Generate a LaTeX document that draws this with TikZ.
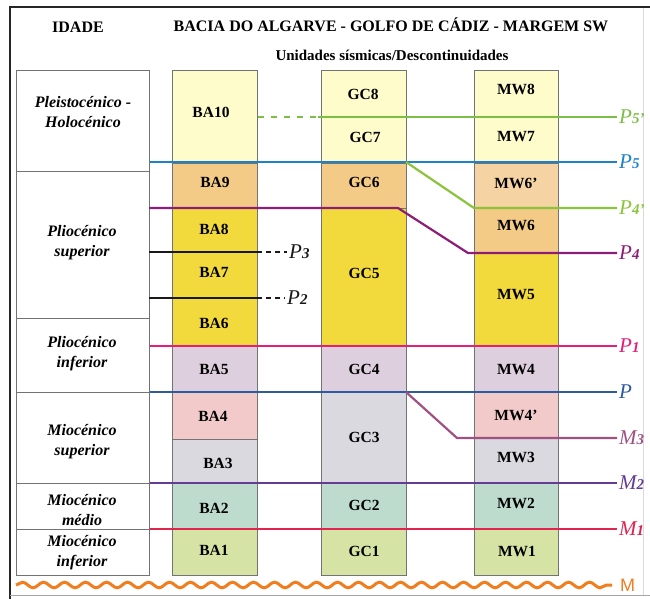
\documentclass[tikz,border=0pt]{standalone}
\usepackage{fontspec}
\setmainfont{Liberation Serif}
\newfontfamily\labsans{Liberation Sans}
\usetikzlibrary{decorations.pathmorphing}
\definecolor{cLY}{HTML}{FFFCCB}
\definecolor{cOR}{HTML}{F4CB86}
\definecolor{cORL}{HTML}{F5D3A2}
\definecolor{cYE}{HTML}{F2D93C}
\definecolor{cMA}{HTML}{DDCFDD}
\definecolor{cPK}{HTML}{F2CACA}
\definecolor{cGR}{HTML}{D9D9DF}
\definecolor{cTE}{HTML}{BEDCCE}
\definecolor{cGN}{HTML}{D5E4A5}
\definecolor{lPfivep}{HTML}{7DBE46}
\definecolor{lPfive}{HTML}{1E82C8}
\definecolor{lPfourp}{HTML}{8CC33C}
\definecolor{lPfour}{HTML}{8C1E78}
\definecolor{lPone}{HTML}{E61E78}
\definecolor{lPzero}{HTML}{2E5AA0}
\definecolor{lMthree}{HTML}{A05082}
\definecolor{lMtwo}{HTML}{643C96}
\definecolor{lMone}{HTML}{E12350}
\definecolor{lMzero}{HTML}{F07D1E}
\newcommand{\plab}[2]{{\fontsize{21}{21}\selectfont\itshape #1\fontsize{15}{15}\selectfont\bfseries #2}}
\begin{document}
\begin{tikzpicture}[x=1pt,y=-1pt,
  cell/.style={draw=black!55, line width=0.7pt, inner sep=0pt, anchor=north west},
  utxt/.style={font=\fontsize{15.5}{16}\selectfont\bfseries, inner sep=0pt},
  agetxt/.style={font=\fontsize{16}{20}\selectfont\bfseries\itshape, align=center, inner sep=0pt},
  head/.style={font=\fontsize{16}{18}\selectfont\bfseries, inner sep=0pt},
  hz/.style={line width=2.2pt},
  lab/.style={anchor=west, inner xsep=2pt, inner ysep=0pt}
]
\useasboundingbox (0,0) rectangle (650,599);
% frame
\draw[black!85, line width=2.5pt] (10,599) -- (10,7) -- (650,7);
\draw[black!35, line width=0.8pt] (10,595) -- (650,595);
\draw[black!15, line width=0.6pt] (643,8) -- (643,595);
% header
\node[head] (idade) at (78,27) {IDADE};
\node[head] (title) at (391,25) {BACIA DO ALGARVE - GOLFO DE CÁDIZ - MARGEM SW};
\node[head, font=\fontsize{15}{18}\selectfont\bfseries] (sub) at (392,55) {Unidades sísmicas/Descontinuidades};
% age column
\node[cell, fill=white, minimum width=133pt, minimum height=101pt] (a1) at (16,70) {};
\node[cell, fill=white, minimum width=133pt, minimum height=147pt] (a2) at (16,171) {};
\node[cell, fill=white, minimum width=133pt, minimum height=74pt] (a3) at (16,318) {};
\node[cell, fill=white, minimum width=133pt, minimum height=91pt] (a4) at (16,392) {};
\node[cell, fill=white, minimum width=133pt, minimum height=46pt] (a5) at (16,483) {};
\node[cell, fill=white, minimum width=133pt, minimum height=46pt] (a6) at (16,529) {};
\node[agetxt] (t1) at (83,112) {Pleistocénico -\\Holocénico};
\node[agetxt] (t2) at (82,243) {Pliocénico\\superior};
\node[agetxt] (t3) at (82,354) {Pliocénico\\inferior};
\node[agetxt] (t4) at (82,442) {Miocénico\\superior};
\node[agetxt] (t5) at (82,510) {Miocénico\\médio};
\node[agetxt] (t6) at (82,553) {Miocénico\\inferior};
% BA column
\node[cell, fill=cLY, minimum width=85pt, minimum height=93pt] (ba10) at (172,70) {};
\node[cell, fill=cOR, minimum width=85pt, minimum height=45pt] (ba9) at (172,163) {};
\node[cell, fill=cYE, minimum width=85pt, minimum height=138pt] (ba86) at (172,208) {};
\node[cell, fill=cMA, minimum width=85pt, minimum height=46pt] (ba5) at (172,346) {};
\node[cell, fill=cPK, minimum width=85pt, minimum height=47pt] (ba4) at (172,392) {};
\node[cell, fill=cGR, minimum width=85pt, minimum height=44pt] (ba3) at (172,439) {};
\node[cell, fill=cTE, minimum width=85pt, minimum height=46pt] (ba2) at (172,483) {};
\node[cell, fill=cGN, minimum width=85pt, minimum height=46pt] (ba1) at (172,529) {};
% GC column
\node[cell, fill=cLY, minimum width=85pt, minimum height=93pt] (gc87) at (321,70) {};
\node[cell, fill=cOR, minimum width=85pt, minimum height=45pt] (gc6) at (321,163) {};
\node[cell, fill=cYE, minimum width=85pt, minimum height=138pt] (gc5) at (321,208) {};
\node[cell, fill=cMA, minimum width=85pt, minimum height=46pt] (gc4) at (321,346) {};
\node[cell, fill=cGR, minimum width=85pt, minimum height=91pt] (gc3) at (321,392) {};
\node[cell, fill=cTE, minimum width=85pt, minimum height=46pt] (gc2) at (321,483) {};
\node[cell, fill=cGN, minimum width=85pt, minimum height=46pt] (gc1) at (321,529) {};
% MW column
\node[cell, fill=cLY, minimum width=84pt, minimum height=93pt] (mw87) at (474,70) {};
\node[cell, fill=cORL, minimum width=84pt, minimum height=45pt] (mw6p) at (474,163) {};
\node[cell, fill=cOR, minimum width=84pt, minimum height=45pt] (mw6) at (474,208) {};
\node[cell, fill=cYE, minimum width=84pt, minimum height=93pt] (mw5) at (474,253) {};
\node[cell, fill=cMA, minimum width=84pt, minimum height=46pt] (mw4) at (474,346) {};
\node[cell, fill=cPK, minimum width=84pt, minimum height=46pt] (mw4p) at (474,392) {};
\node[cell, fill=cGR, minimum width=84pt, minimum height=45pt] (mw3) at (474,438) {};
\node[cell, fill=cTE, minimum width=84pt, minimum height=46pt] (mw2) at (474,483) {};
\node[cell, fill=cGN, minimum width=84pt, minimum height=46pt] (mw1) at (474,529) {};
% unit texts
\node[utxt] (tba10) at (211,112) {BA10};
\node[utxt] (tba9) at (215,182) {BA9};
\node[utxt] (tba8) at (214,229) {BA8};
\node[utxt] (tba7) at (214,272) {BA7};
\node[utxt] (tba6) at (214,323) {BA6};
\node[utxt] (tba5) at (214,369) {BA5};
\node[utxt] (tba4) at (213,416) {BA4};
\node[utxt] (tba3) at (218,463) {BA3};
\node[utxt] (tba2) at (214,508) {BA2};
\node[utxt] (tba1) at (214,550) {BA1};
\node[utxt] (tgc8) at (363,94) {GC8};
\node[utxt] (tgc7) at (365,137) {GC7};
\node[utxt] (tgc6) at (364,182) {GC6};
\node[utxt] (tgc5) at (364,273) {GC5};
\node[utxt] (tgc4) at (364,369) {GC4};
\node[utxt] (tgc3) at (364,437) {GC3};
\node[utxt] (tgc2) at (364,505) {GC2};
\node[utxt] (tgc1) at (364,551) {GC1};
\node[utxt] (tmw8) at (516,89) {MW8};
\node[utxt] (tmw7) at (516,137) {MW7};
\node[utxt] (tmw6p) at (516,183) {MW6’};
\node[utxt] (tmw6) at (516,225) {MW6};
\node[utxt] (tmw5) at (516,295) {MW5};
\node[utxt] (tmw4) at (516,370) {MW4};
\node[utxt] (tmw4p) at (516,415) {MW4’};
\node[utxt] (tmw3) at (516,457) {MW3};
\node[utxt] (tmw2) at (516,503) {MW2};
\node[utxt] (tmw1) at (517,551) {MW1};
% right labels
\node[lab, text=lPfivep] (LP5p) at (617,117) {\plab{P}{5’}};
\node[lab, text=lPfive] (LP5) at (617,162) {\plab{P}{5}};
\node[lab, text=lPfourp] (LP4p) at (617,208) {\plab{P}{4’}};
\node[lab, text=lPfour] (LP4) at (617,253) {\plab{P}{4}};
\node[lab, text=lPone] (LP1) at (617,346) {\plab{P}{1}};
\node[lab, text=lPzero] (LP) at (617,392) {\plab{P}{}};
\node[lab, text=lMthree] (LM3) at (617,438) {\plab{M}{3}};
\node[lab, text=lMtwo] (LM2) at (617,483) {\plab{M}{2}};
\node[lab, text=lMone] (LM1) at (617,529) {\plab{M}{1}};
\node[lab, text=lMzero, font=\labsans\fontsize{18}{18}\selectfont] (LM) at (618,585) {M};
\node[lab, text=black!90] (LP3) at (287,252) {\plab{P}{3}};
\node[lab, text=black!90] (LP2) at (285,298) {\plab{P}{2}};
% horizons
\coordinate (p5s) at (258,117);
\coordinate (p5m) at (318,117);
\draw[hz, lPfivep, dash pattern=on 6pt off 7pt] (p5s) -- (p5m);
\draw[hz, lPfivep] (p5m) -- (LP5p.west);
\draw[hz, lPfive] (a1.east |- LP5.west) -- (LP5.west);
\coordinate (p4pa) at (406,162);
\coordinate (p4pb) at (474,208);
\draw[hz, lPfourp] (p4pa) -- (p4pb) -- (LP4p.west);
\coordinate (p4a) at (149,208);
\coordinate (p4b) at (398,208);
\coordinate (p4c) at (468,253);
\draw[hz, lPfour] (p4a) -- (p4b) -- (p4c) -- (LP4.west);
\coordinate (p3a) at (149,252);
\coordinate (p3b) at (257,252);
\draw[hz, black!90] (p3a) -- (p3b);
\draw[hz, black!90, dash pattern=on 5pt off 4pt] (p3b) -- (LP3.west);
\coordinate (p2a) at (149,298);
\coordinate (p2b) at (257,298);
\draw[hz, black!90] (p2a) -- (p2b);
\draw[hz, black!90, dash pattern=on 5pt off 4pt] (p2b) -- (LP2.west);
\draw[hz, lPone] (a3.east |- LP1.west) -- (LP1.west);
\draw[hz, lPzero] (a4.north east) -- (LP.west);
\coordinate (m3a) at (406,392);
\coordinate (m3b) at (457,438);
\draw[hz, lMthree] (m3a) -- (m3b) -- (LM3.west);
\draw[hz, lMtwo] (a5.north east) -- (LM2.west);
\draw[hz, lMone] (a6.north east) -- (LM1.west);
\coordinate (ms) at (16,585);
\coordinate (me) at (612,585);
\draw[lMzero, line width=3pt, decorate, decoration={snake, amplitude=2.8pt, segment length=21pt}] (ms) -- (me);
\end{tikzpicture}
\end{document}
